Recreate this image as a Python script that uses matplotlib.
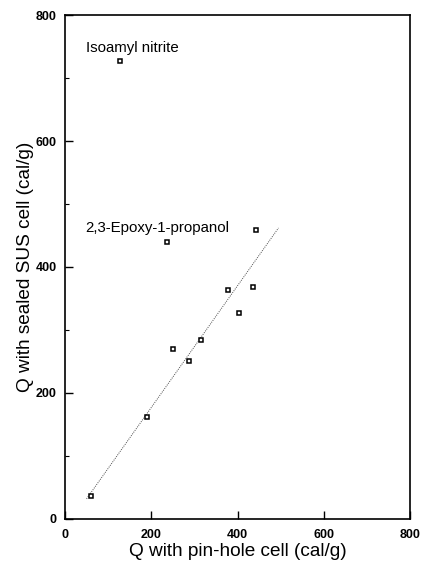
"""Heat of decomposition: sealed SUS cell vs pin-hole cell."""
import numpy as np
import matplotlib.pyplot as plt
from matplotlib.ticker import MultipleLocator

plt.rcParams["font.family"] = ["Liberation Sans", "DejaVu Sans"]

# measured heats (cal/g)
q_pinhole = [60, 190, 250, 288, 315, 379, 403, 435, 442, 237, 128]
q_sealed = [37, 162, 270, 251, 284, 363, 327, 368, 459, 440, 727]

# fitted line end points
fit_x = [50, 495]
fit_y = [32, 462]

labels = ["Isoamyl nitrite", "2,3-Epoxy-1-propanol"]
label_x = [48, 48]
label_y = [748, 462]

fig = plt.figure(figsize=(4.24, 5.64), dpi=100)
ax = fig.add_axes([0.1533, 0.0798, 0.8137, 0.8936])

ax.plot(fit_x, fit_y, color="0.3", lw=0.7, linestyle=(0, (1, 1.2)))
ax.plot(q_pinhole, q_sealed, linestyle="none", marker="s", ms=3.3,
        mfc="white", mec="black", mew=1.1)

for txt, tx, ty in zip(labels, label_x, label_y):
    ax.text(tx, ty, txt, fontsize=10.8, va="center", ha="left")

ax.set_xlim(0, 800)
ax.set_ylim(0, 800)
ax.xaxis.set_major_locator(MultipleLocator(200))
ax.yaxis.set_major_locator(MultipleLocator(200))
ax.yaxis.set_minor_locator(MultipleLocator(100))
ax.tick_params(axis="both", which="both", direction="in")
ax.tick_params(axis="both", which="major", length=6, width=1, labelsize=9)
ax.tick_params(axis="x", which="major", pad=7)
ax.tick_params(axis="y", which="major", pad=6)
ax.tick_params(axis="y", which="minor", length=3, width=0.8)
for lbl in ax.get_xticklabels() + ax.get_yticklabels():
    lbl.set_fontweight("bold")
for side in ax.spines.values():
    side.set_linewidth(1.2)

ax.set_xlabel("Q with pin-hole cell (cal/g)", fontsize=13.7, labelpad=2)
ax.set_ylabel("Q with sealed SUS cell (cal/g)", fontsize=13.7, labelpad=1)

fig.savefig("out.png", dpi=100)
